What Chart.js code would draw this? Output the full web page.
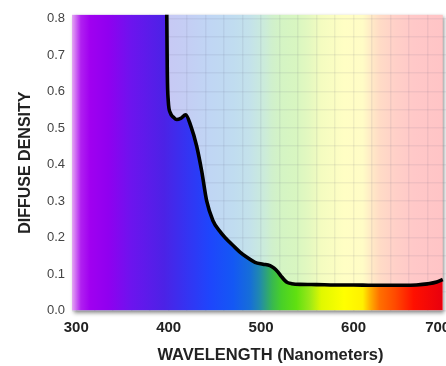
<!DOCTYPE html>
<html><head><meta charset="utf-8">
<script src="https://cdn.jsdelivr.net/npm/chart.js@4/dist/chart.umd.min.js"></script>
<style>
html,body{margin:0;padding:0;background:#fff;overflow:hidden}
#wrap{width:446px;height:366px;position:relative}
</style>
</head><body>
<div id="wrap"><canvas id="c" width="446" height="366"></canvas></div>
<script>
// ---- data ----
const wavelengths = [295.4, 350, 396, 397.8, 398.5, 399.5, 402, 405, 408.7, 413, 418.4, 424, 430.3, 435.7, 441.1, 447.9, 455, 460.9, 471.7, 477.1, 485, 493.4, 502, 509.6, 514, 518.3, 522, 525.8, 529, 533.1, 542, 560, 580, 600, 620, 640, 655, 668, 680, 690, 696.5];
const density     = [1.5, 1.5, 1.5, 0.85, 0.65, 0.575, 0.54, 0.53, 0.523, 0.526, 0.536, 0.505, 0.450, 0.382, 0.300, 0.246, 0.218, 0.200, 0.173, 0.160, 0.145, 0.132, 0.127, 0.123, 0.116, 0.105, 0.093, 0.082, 0.076, 0.0735, 0.0716, 0.071, 0.070, 0.070, 0.069, 0.069, 0.069, 0.070, 0.073, 0.078, 0.085];
const xTickLabels = [300, 400, 500, 600, 700];
const yTickLabels = ['0.0', '0.1', '0.2', '0.3', '0.4', '0.5', '0.6', '0.7', '0.8'];

// ---- spectrum styling ----
const spectrumStops  = [295.4, 300, 305, 315, 335, 360, 395, 420, 445, 470, 488, 498, 505, 512, 522, 538, 552, 565, 590, 610, 618, 628, 645, 665, 696.5];
const vividColors    = ['#e4a8f2','#cc66f2','#b020f0','#a000f0','#9000f0','#6c14ee','#4c22e6','#3434f2','#1e46fc','#1458f4','#166ed8','#2088b0','#2ca080','#38b850','#48d028','#60e010','#98e818','#e0f800','#ffff00','#fff000','#ffb000','#ff7000','#ff4a00','#ff1000','#e8000e'];
const paleColors     = ['#e8d0f6','#e0c8f6','#d8c0f6','#d0c0f6','#ccc4f6','#c8c8f6','#c8c8f4','#c4cef4','#c0d6f4','#c0dcf0','#c4e2ea','#c8e8e0','#ccecd8','#d0f0cc','#d4f4c4','#d8f6c0','#e4f8c0','#f4fcc0','#fffec4','#fffcc6','#ffecc6','#ffdcc6','#ffd0c8','#ffc8c8','#ffc4c6'];

function spectrumGradient(chart, colors) {
  const xs = chart.scales.x;
  const first = spectrumStops[0], last = spectrumStops[spectrumStops.length - 1];
  const g = chart.ctx.createLinearGradient(xs.getPixelForValue(first), 0, xs.getPixelForValue(last), 0);
  spectrumStops.forEach((nm, i) => g.addColorStop((nm - first) / (last - first), colors[i]));
  return g;
}

const plotBackground = {
  id: 'plotBackground',
  beforeDraw(chart) {
    const {ctx, chartArea, scales} = chart;
    ctx.save();
    ctx.fillStyle = '#fff';
    ctx.fillRect(0, 0, chart.width, chart.height);
    const right = scales.x.getPixelForValue(spectrumStops[spectrumStops.length - 1]);
    ctx.shadowColor = 'rgba(0,0,0,0.45)';
    ctx.shadowBlur = 4;
    ctx.shadowOffsetX = 1.5;
    ctx.shadowOffsetY = 2;
    ctx.fillStyle = spectrumGradient(chart, paleColors);
    ctx.fillRect(chartArea.left, chartArea.top, right - chartArea.left, chartArea.bottom - chartArea.top);
    ctx.restore();
  }
};

const xGrid = [];
for (let v = 300; v <= 700; v += 20) xGrid.push(v);
const yGrid = [];
for (let k = 0; k <= 16; k++) yGrid.push(Math.round(k * 5) / 100);

const gridColor = 'rgba(90,90,120,0.09)';

new Chart(document.getElementById('c'), {
  type: 'line',
  data: {
    datasets: [{
      data: wavelengths.map((w, i) => ({x: w, y: density[i]})),
      borderColor: '#000',
      borderWidth: 3.6,
      pointRadius: 0,
      cubicInterpolationMode: 'monotone',
      fill: 'origin',
      clip: 0,
      backgroundColor: (c) => c.chart.chartArea ? spectrumGradient(c.chart, vividColors) : '#00f'
    }]
  },
  options: {
    responsive: false,
    animation: false,
    devicePixelRatio: 1,
    layout: {padding: {top: 13, right: 0, bottom: 0, left: 0}},
    plugins: {legend: {display: false}, tooltip: {enabled: false}},
    scales: {
      x: {
        type: 'linear',
        min: 295.4,
        max: 700,
        afterBuildTicks: s => { s.ticks = xGrid.map(v => ({value: v})); },
        afterFit: s => { s.height = 55.5; s.paddingLeft = 0; s.paddingRight = 0; },
        ticks: {
          autoSkip: false, maxRotation: 0, padding: 8.5, color: '#222',
          font: {family: 'Liberation Sans, Arial, sans-serif', size: 15, weight: 'bold'},
          callback: v => xTickLabels.includes(v) ? (v === 700 ? '700    ' : String(v)) : ''
        },
        grid: {color: c => (c.tick && c.tick.value === 700) ? 'rgba(0,0,0,0)' : gridColor, lineWidth: 1.5, drawTicks: false},
        border: {display: false},
        title: {
          display: true, text: '     WAVELENGTH (Nanometers)', color: '#222',
          font: {family: 'Liberation Sans, Arial, sans-serif', size: 16.5, weight: 'bold'},
          padding: {top: 0, bottom: 0.5}
        }
      },
      y: {
        min: 0,
        max: 0.81,
        afterBuildTicks: s => { s.ticks = yGrid.map(v => ({value: v})); },
        afterFit: s => { s.width = 72; },
        ticks: {
          padding: 7, color: '#444', autoSkip: false,
          font: {family: 'Liberation Sans, Arial, sans-serif', size: 13},
          callback: v => {
            const k = Math.round(v * 10);
            return Math.abs(v * 10 - k) < 1e-6 ? yTickLabels[k] : '';
          }
        },
        grid: {color: gridColor, lineWidth: 1.5, drawTicks: false},
        border: {display: false},
        title: {
          display: true, text: 'DIFFUSE DENSITY', color: '#222',
          font: {family: 'Liberation Sans, Arial, sans-serif', size: 16, weight: 'bold'},
          padding: {top: 16, bottom: 0}
        }
      }
    }
  },
  plugins: [plotBackground]
});
</script>
</body></html>
